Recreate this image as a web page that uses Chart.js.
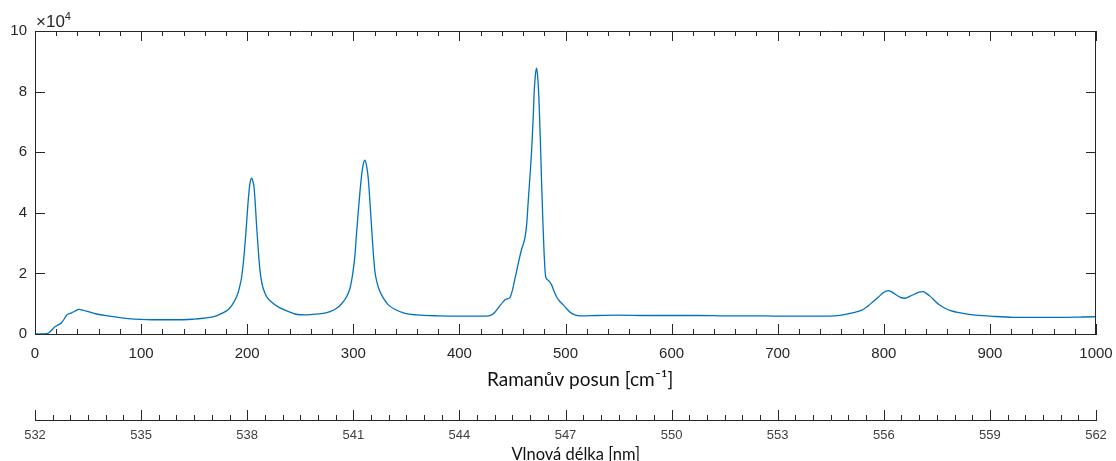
<!DOCTYPE html>
<html>
<head>
<meta charset="utf-8">
<script src="https://cdn.jsdelivr.net/npm/chart.js@4/dist/chart.umd.min.js"></script>
<style>
  html, body { margin: 0; padding: 0; background: #fff; }
  canvas { display: block; }
</style>
</head>
<body>
<canvas id="c" width="1116" height="461"></canvas>
<script>
// Raman shift [cm^-1]
const ramanShift = [
  0, 5, 12, 15, 18.8, 22, 25, 28, 30, 34.6, 38, 41, 45, 50, 58, 70, 80, 90, 99, 110,
  121, 130, 140, 150, 158.6, 165, 171, 176, 182, 186, 190, 192.5, 194.8, 196.5, 198, 199.5, 201, 202.6, 204.2, 205.3,
  206.4, 207.6, 208.9, 210.5, 212, 214, 216.8, 220, 224.6, 230, 235.6, 245, 255, 262, 270, 278, 284.3, 289, 293.7, 296.9,
  299.5, 301.6, 303, 304.7, 306.3, 307.9, 309.5, 311, 312.5, 314.1, 315.7, 317.3, 318.8, 320.4, 322.5, 325.1, 329, 333, 340, 348.7,
  360, 380, 400, 420, 428.8, 433, 437, 441.4, 444, 447.6, 450, 452.5, 455.5, 458.5, 461.8, 463.5, 464.9, 466.5, 468.1, 469.5,
  470.6, 471.8, 472.8, 474, 475, 476.3, 477.5, 478.6, 479.7, 481.3, 483.5, 486.9, 489, 491.6, 494.5, 497.9, 502, 505.8, 509, 513.6,
  530, 550, 575, 600, 625, 650, 675, 700, 725, 749, 760, 768, 775, 780.6, 785, 790, 795, 799.4, 804.2, 807,
  810.5, 815, 819.9, 825, 829.3, 833, 837.2, 840, 843.5, 848, 852, 857.6, 863, 868.6, 876, 884.3, 900, 922, 945, 969,
  985, 1000
];
// Intensity [counts]
const intensity = [
  0, 0, 200, 1000, 2400, 3000, 3700, 5200, 6300, 7000, 7600, 8100, 7900, 7400, 6600, 5900, 5400, 5000, 4800, 4700,
  4700, 4700, 4700, 4900, 5200, 5500, 6000, 6800, 8000, 9700, 12300, 15000, 18900, 24000, 29900, 37000, 44200, 49700, 51400, 50500,
  48600, 43000, 35400, 27500, 21100, 16500, 13400, 11500, 10100, 8800, 7900, 6600, 6300, 6500, 6700, 7400, 8500, 10000, 12300, 15100,
  20000, 26100, 33000, 40400, 47000, 52500, 56200, 57400, 55500, 51400, 43500, 34900, 27000, 20600, 16800, 14000, 11500, 9600, 8000, 6800,
  6300, 6000, 5900, 5900, 6100, 7000, 8800, 10700, 11500, 12000, 14500, 18500, 23300, 27800, 31800, 36500, 44000, 52000, 60700, 71000,
  80500, 86000, 87700, 84000, 77200, 64000, 49700, 38000, 27700, 18900, 17800, 16200, 14300, 12300, 10800, 9600, 8000, 6800, 6300, 6000,
  6100, 6200, 6100, 6100, 6100, 6000, 6000, 5900, 5900, 5900, 6200, 6800, 7400, 8100, 9200, 10700, 12200, 13600, 14300, 14000,
  13200, 12200, 11800, 12500, 13200, 13800, 14000, 13400, 12500, 11000, 9700, 8500, 7700, 7200, 6700, 6300, 5900, 5500, 5500, 5500,
  5600, 5700
];
const yTickLabels = [0, 2, 4, 6, 8, 10];            // ×10^4
const ramanTickLabels = [0, 100, 200, 300, 400, 500, 600, 700, 800, 900, 1000];
const wavelengthTickLabels = [532, 535, 538, 541, 544, 547, 550, 553, 556, 559, 562];

const AXIS = '#262626';
const TICKFONT = 'Liberation Sans, Arial, Helvetica, sans-serif';
const TITLEFONT = 'Lato, Open Sans, sans-serif';

const boxTicks = {
  id: 'boxTicks',
  afterDraw(chart) {
    const ctx = chart.ctx;
    const xs = chart.scales.x, ys = chart.scales.y, x2 = chart.scales.x2;
    const a = chart.chartArea;
    ctx.save();
    ctx.strokeStyle = AXIS;
    ctx.lineWidth = 1;
    ctx.beginPath();
    // top & right border
    ctx.moveTo(a.left, a.top + 0.5); ctx.lineTo(a.right, a.top + 0.5);
    ctx.moveTo(a.right - 0.5, a.top); ctx.lineTo(a.right - 0.5, a.bottom);
    // x ticks (inward, bottom and top)
    xs.ticks.forEach(t => {
      const px = Math.round(xs.getPixelForValue(t.value)) + 0.5;
      const len = ramanTickLabels.includes(t.value) ? 10 : 5;
      ctx.moveTo(px, a.bottom); ctx.lineTo(px, a.bottom - len);
      ctx.moveTo(px, a.top); ctx.lineTo(px, a.top + len);
    });
    // y ticks (inward, left and right)
    ys.ticks.forEach(t => {
      const py = Math.round(ys.getPixelForValue(t.value)) + 0.5;
      ctx.moveTo(a.left, py); ctx.lineTo(a.left + 10, py);
      ctx.moveTo(a.right, py); ctx.lineTo(a.right - 10, py);
    });
    // second axis ticks (upward)
    const base = x2.top;
    x2.ticks.forEach(t => {
      const px = Math.round(x2.getPixelForValue(t.value)) + 0.5;
      const len = wavelengthTickLabels.includes(t.value) ? 10 : 5;
      ctx.moveTo(px, base); ctx.lineTo(px, base - len);
    });
    ctx.stroke();
    // exponent label
    ctx.fillStyle = AXIS;
    ctx.textBaseline = 'alphabetic';
    ctx.textAlign = 'left';
    ctx.font = '17px ' + TICKFONT;
    ctx.fillText('\u00d710', a.left + 1, 27);
    const w = ctx.measureText('\u00d710').width;
    ctx.font = '11px ' + TICKFONT;
    ctx.fillText('4', a.left + 1 + w, 19.5);
    ctx.restore();
  }
};

new Chart(document.getElementById('c'), {
  type: 'line',
  data: {
    datasets: [{
      data: ramanShift.map((x, i) => ({ x: x, y: intensity[i] })),
      borderColor: '#0072BD',
      borderWidth: 1.3,
      pointRadius: 0,
      cubicInterpolationMode: 'monotone',
      fill: false,
      xAxisID: 'x',
      yAxisID: 'y'
    }]
  },
  options: {
    responsive: false,
    devicePixelRatio: 1,
    animation: false,
    layout: { padding: { top: 31, right: 20, bottom: 0, left: 0 } },
    plugins: { legend: { display: false }, tooltip: { enabled: false } },
    scales: {
      x: {
        type: 'linear', position: 'bottom', min: 0, max: 1000,
        afterFit: s => { s.height = 86; s.paddingLeft = 0; s.paddingRight = 0; },
        grid: { display: false, drawTicks: false },
        border: { display: true, color: AXIS, width: 1 },
        ticks: {
          stepSize: 20, autoSkip: false, maxRotation: 0, maxTicksLimit: 1000,
          padding: 11, color: AXIS, font: { family: TICKFONT, size: 15 },
          callback: v => ramanTickLabels.includes(v) ? String(v) : ''
        },
        title: {
          display: true, text: '\u00a0\u00a0\u00a0\u00a0\u00a0\u00a0Ramanův posun [cm⁻¹]', color: '#111',
          font: { family: TITLEFONT, size: 19, lineHeight: 1.2 },
          padding: { top: 0, bottom: 29 }
        }
      },
      x2: {
        type: 'linear', position: 'bottom', min: 532, max: 562,
        afterFit: s => { s.height = 41; s.paddingLeft = 0; s.paddingRight = 0; },
        grid: { display: false, drawTicks: false },
        border: { display: true, color: AXIS, width: 1 },
        ticks: {
          stepSize: 0.5, autoSkip: false, maxRotation: 0, maxTicksLimit: 1000,
          padding: 8, color: '#404040', font: { family: TICKFONT, size: 13 },
          callback: v => wavelengthTickLabels.includes(v) ? String(v) : ''
        },
        title: {
          display: true, text: '\u00a0\u00a0\u00a0\u00a0\u00a0Vlnová délka [nm]', color: '#111',
          font: { family: TITLEFONT, size: 16.5, lineHeight: 0.8 },
          padding: { top: 0, bottom: 0 }
        }
      },
      y: {
        type: 'linear', position: 'left', min: 0, max: 100000,
        afterFit: s => { s.width = 35; s.paddingTop = 0; s.paddingBottom = 0; },
        grid: { display: false, drawTicks: false },
        border: { display: true, color: AXIS, width: 1 },
        ticks: {
          stepSize: 20000, padding: 8, color: AXIS, font: { family: TICKFONT, size: 15 },
          callback: v => yTickLabels.includes(v / 10000) ? String(v / 10000) : ''
        }
      }
    }
  },
  plugins: [boxTicks]
});
</script>
</body>
</html>
